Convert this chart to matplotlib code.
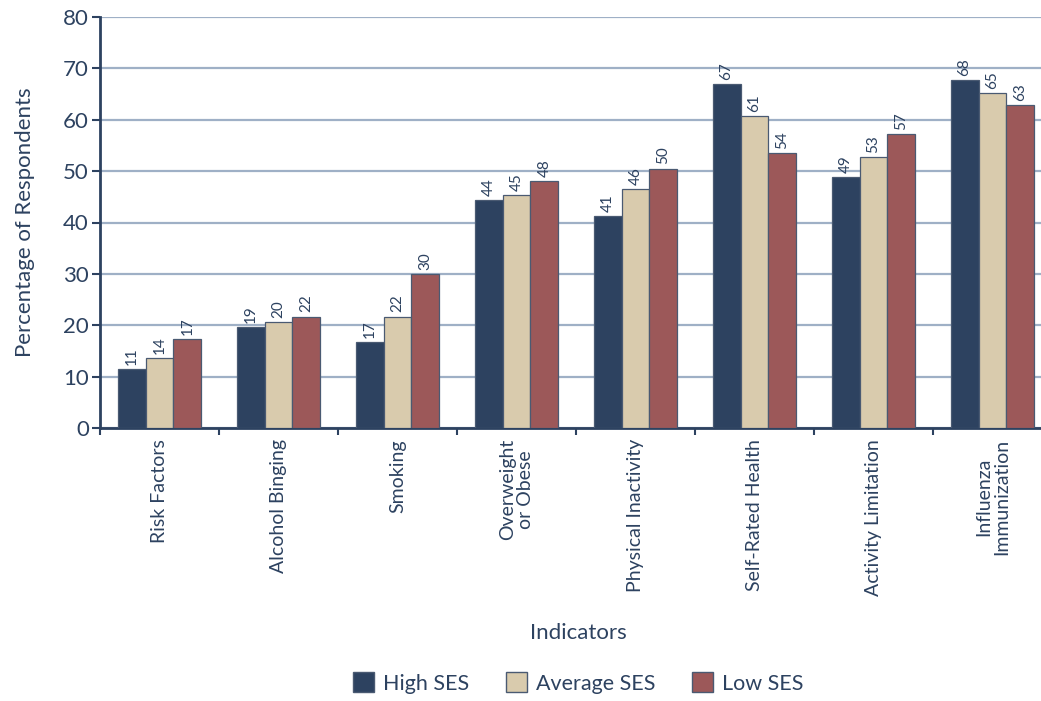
import numpy as np
import matplotlib.pyplot as plt
from matplotlib.patches import Patch

plt.rcParams['font.family'] = ['Lato', 'DejaVu Sans']

indicators = ["Risk Factors", "Alcohol Binging", "Smoking", "Overweight\nor Obese",
              "Physical Inactivity", "Self-Rated Health", "Activity Limitation",
              "Influenza\nImmunization"]
series = ["High SES", "Average SES", "Low SES"]
high_ses = [11.4, 19.6, 16.7, 44.4, 41.3, 67.0, 48.8, 67.7]
avg_ses = [13.7, 20.6, 21.7, 45.4, 46.5, 60.8, 52.7, 65.2]
low_ses = [17.3, 21.7, 29.9, 48.0, 50.5, 53.6, 57.3, 62.8]
high_lbl = [11, 19, 17, 44, 41, 67, 49, 68]
avg_lbl = [14, 20, 22, 45, 46, 61, 53, 65]
low_lbl = [17, 22, 30, 48, 50, 54, 57, 63]

navy = "#2d4260"
colors = ["#2d4260", "#d9cbad", "#9c5859"]
grid_col = "#9fb0c6"

fig = plt.figure(figsize=(10.41, 7.01), dpi=100)
ax = fig.add_axes([100 / 1041, 273 / 701, 952 / 1041, 411 / 701])

x = np.arange(len(indicators)) + 0.5
w = 0.235
values = [high_ses, avg_ses, low_ses]
labels = [high_lbl, avg_lbl, low_lbl]
for i, (vals, lbls) in enumerate(zip(values, labels)):
    pos = x + (i - 1) * w
    ax.bar(pos, vals, width=w, color=colors[i], edgecolor="#4a5a72",
           linewidth=0.9, zorder=3)
    for p, v, l in zip(pos, vals, lbls):
        ax.text(p, v + 0.8, str(l), rotation=90, ha="center", va="bottom",
                fontsize=11, color=navy)

ax.set_xlim(0, len(indicators))
ax.set_ylim(0, 80)
ax.set_yticks(range(0, 81, 10))
ax.yaxis.grid(True, color=grid_col, linewidth=1.6, zorder=0)
ax.set_axisbelow(True)

ax.set_xticks(np.arange(len(indicators) + 1))
ax.set_xticklabels([])
ax.set_xticks(x, minor=True)
ax.set_xticklabels(indicators, minor=True, rotation=90, fontsize=14,
                   color=navy, va="top", ha="center", linespacing=1.05)
ax.tick_params(axis="x", which="minor", length=0, pad=8)
ax.tick_params(axis="x", which="major", length=5, width=1.5, color=navy)
ax.tick_params(axis="y", length=6, width=1.5, color=navy, labelsize=16,
               labelcolor=navy, pad=2)

for s in ["top", "right"]:
    ax.spines[s].set_visible(False)
for s in ["left", "bottom"]:
    ax.spines[s].set_color(navy)
    ax.spines[s].set_linewidth(2)

ax.set_ylabel("Percentage of Respondents", fontsize=16, color=navy, labelpad=20)
fig.text(578 / 1041, 1 - 633 / 701, "Indicators", fontsize=16, color=navy,
         ha="center", va="center")

handles = [Patch(facecolor=c, edgecolor="#4a5a72", label=s)
           for c, s in zip(colors, series)]
leg = fig.legend(handles=handles, loc="center", ncol=3,
                 bbox_to_anchor=(578 / 1041, 1 - 683 / 701), frameon=False,
                 fontsize=15.5, handlelength=1.0, handleheight=1.0,
                 handletextpad=0.4, columnspacing=1.7)
for t in leg.get_texts():
    t.set_color(navy)

fig.savefig("out.png", dpi=100)
